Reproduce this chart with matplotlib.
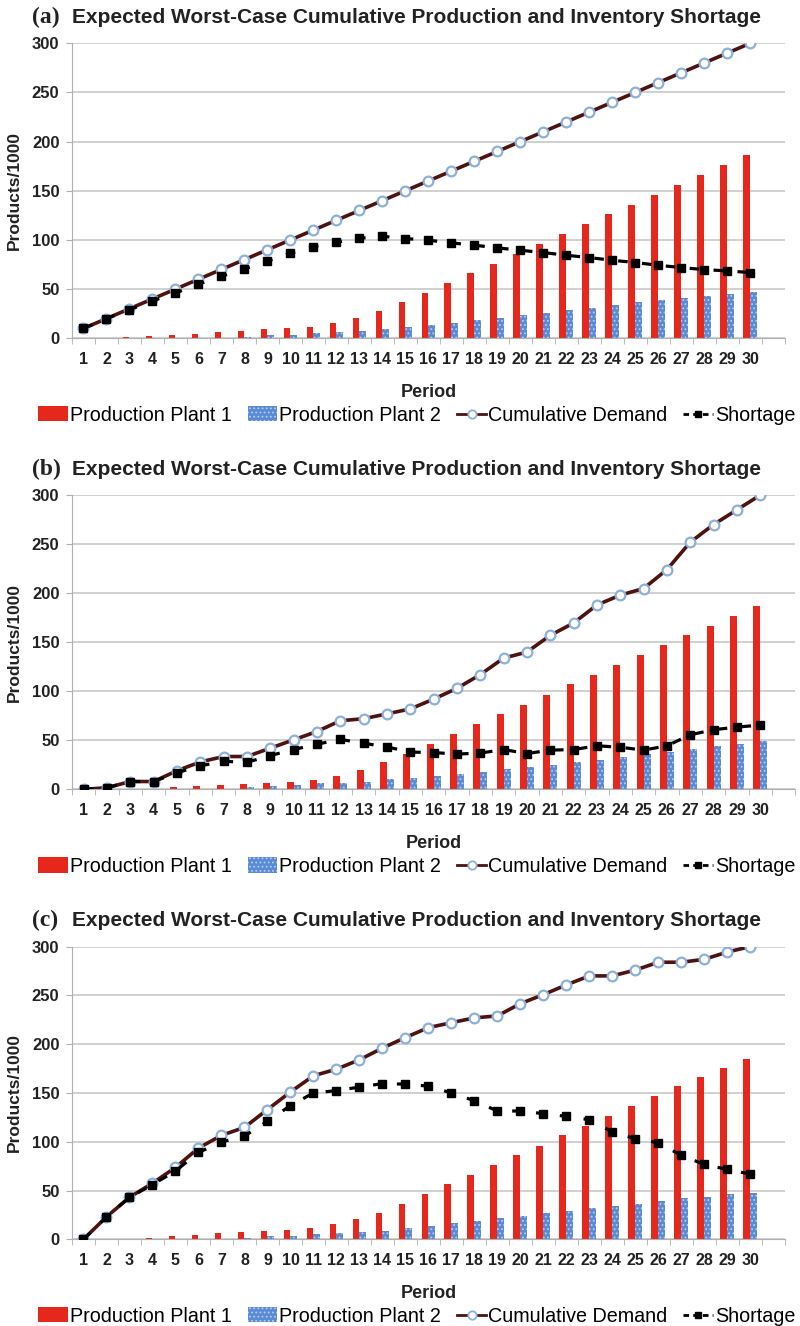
import numpy as np
import matplotlib
matplotlib.use('Agg')
import matplotlib.pyplot as plt
from matplotlib.lines import Line2D
from matplotlib.patches import Patch

periods = list(range(1, 31))
panel_labels = ['(a)', '(b)', '(c)']
title = 'Expected Worst-Case Cumulative Production and Inventory Shortage'
legend_labels = ['Production Plant 1', 'Production Plant 2', 'Cumulative Demand', 'Shortage']
y_ticks = [0, 50, 100, 150, 200, 250, 300]

# production (thousands)
plant1_a = [0, 0, 1, 2, 3.5, 4.5, 6, 7.5, 9, 10, 11.5, 16, 21, 27.5, 36.5, 46, 56, 66, 76, 86,
            96, 106, 116, 126, 136, 146, 156, 166, 176, 186]
plant2_a = [0, 0, 0, 0, 0, 0, 0.5, 1.5, 3, 3.5, 5, 6, 7, 9, 11, 13, 16, 19, 21, 24,
            26, 29, 31, 34, 36.5, 39, 41, 43, 45.5, 47]
plant1_b = [0, 0, 0.5, 0.7, 2.4, 3.7, 4.4, 5, 6, 7.5, 9.5, 14, 20, 27.5, 36, 46, 56.5, 67, 77, 86.5,
            96.5, 107, 117, 127, 137, 147, 157, 167, 177, 187]
plant2_b = [0, 0, 0, 0, 0, 0, 0.7, 2, 3.4, 4.4, 6, 6.8, 8, 10.5, 12, 13.3, 15.4, 17.4, 20.5, 23,
            25, 28, 30, 33, 36, 38, 41.5, 44, 46, 49]
plant1_c = [0, 0, 0.7, 1.7, 3.7, 4.8, 6, 7.2, 8.6, 10, 11.6, 15.8, 21, 27.4, 36.6, 46.6, 56.5, 66.4, 76.4, 86.3,
            96, 106.5, 116.4, 126.7, 136.6, 146.6, 156.8, 166, 176, 185]
plant2_c = [0, 0, 0, 0, 0, 0, 0.5, 1.5, 3, 3.5, 5, 6, 7, 9, 11.6, 13.7, 16.4, 18.8, 22, 24,
            26.7, 28.8, 32, 34, 36.6, 39.7, 42, 43.8, 46, 47.3]

demand_a = [10, 20, 30, 40, 50, 60, 70, 80, 90, 100, 110, 120, 130, 140, 150, 160, 170, 180, 190, 200,
            210, 220, 230, 240, 250, 260, 270, 280, 290, 300]
shortage_a = [10, 20, 29, 38, 46, 55, 63, 70.5, 78.5, 86.5, 93, 97.6, 101.7, 103.7, 101.4, 99.7, 97, 94.6, 91.9, 89.5,
              87.1, 84.4, 82, 79.3, 77, 74.2, 71.9, 69.8, 68.5, 66.8]
demand_b = [0, 1.7, 8, 8, 19, 28, 33.5, 33.5, 42, 50.5, 59, 70, 72, 77, 82, 92, 103, 117, 133.8, 140,
            157, 169.6, 188, 198, 204.8, 224, 252, 270, 285, 300]
shortage_b = [0, 1.7, 8, 8, 17, 24, 28.6, 27.6, 34.5, 40.6, 46, 51, 47, 43.3, 38, 37.5, 36, 37, 40.6, 36.5,
              40, 40.6, 44.4, 43, 40, 44.4, 55.6, 60.8, 63.5, 65.5]
demand_c = [0, 23, 43, 57.5, 73.6, 93.5, 106.5, 114.7, 133, 151, 167.6, 174.4, 184, 196, 206.8, 217, 222, 227, 229, 241.6,
            250.8, 260.8, 270, 270, 276, 284, 284, 287, 294.5, 300]
shortage_c = [0, 23, 43, 56, 70, 89, 99.7, 105.8, 121, 137, 150, 152.4, 156, 159.6, 159, 157, 150, 142, 131.5, 131.5,
              128.8, 126, 122.6, 110, 103, 99, 86, 76.7, 71.6, 66.8]

RED = '#e5281b'
BLUE = '#5a8ad4'
BLUE_HATCH = '#b4cdf0'
DEMAND_LINE = '#4e1210'
DEMAND_EDGE = '#8db0da'
GRID = '#c8c8c8'
TEXT = '#222222'

plt.rcParams['font.family'] = ['Liberation Sans', 'DejaVu Sans']
plt.rcParams['hatch.linewidth'] = 0.8


def draw_panel(fig, ax, label, plant1, plant2, demand, shortage, n_slots=31):
    x = np.array(periods)
    w = 0.3
    ax.bar(x - w / 2, plant1, width=w, color=RED, zorder=2)
    ax.bar(x + w / 2, plant2, width=w, color=BLUE, edgecolor=BLUE_HATCH, linewidth=0,
           hatch='....', zorder=2)
    ax.plot(x, demand, color=DEMAND_LINE, linewidth=2.6, marker='o', markersize=7,
            markerfacecolor='white', markeredgecolor=DEMAND_EDGE, markeredgewidth=1.6, zorder=3)
    ax.plot(x, shortage, color='black', linewidth=2.3, linestyle=(0, (3, 4.5)), marker='s',
            markersize=6.3, zorder=4)

    ax.set_xlim(0.5, n_slots + 0.5)
    ax.set_ylim(0, 300)
    ax.set_yticks(y_ticks)
    ax.set_xticks(x)
    ax.set_xticks(np.arange(0.5, n_slots + 1, 1), minor=True)
    ax.tick_params(axis='x', which='major', length=0, pad=10, labelsize=11.5)
    ax.tick_params(axis='x', which='minor', length=4, color='#b0b0b0', direction='out')
    ax.tick_params(axis='y', length=4, color='#b0b0b0', pad=5, labelsize=12)
    for t in ax.get_xticklabels() + ax.get_yticklabels():
        t.set_fontweight('bold')
        t.set_color(TEXT)

    ax.grid(True, axis='y', color=GRID, linewidth=1.2, zorder=0)
    ax.set_axisbelow(True)
    for s in ['top', 'right']:
        ax.spines[s].set_visible(False)
    ax.spines['left'].set_color('#b0b0b0')
    ax.spines['bottom'].set_color('#b0b0b0')

    ax.set_xlabel('Period', fontsize=13, fontweight='bold', color=TEXT)
    ax.xaxis.set_label_coords(0.5, -0.156)
    ax.set_ylabel('Products/1000', fontsize=12.5, fontweight='bold', color=TEXT)
    ax.yaxis.set_label_coords(-0.07, 0.5)

    ax.text(-0.056, 1.088, label, transform=ax.transAxes, fontsize=17, fontweight='bold',
            family='Liberation Serif', va='center', ha='left', color=TEXT)
    ax.text(0.0, 1.088, title, transform=ax.transAxes, fontsize=15, fontweight='bold',
            va='center', ha='left', color=TEXT)

    handles = [
        Patch(facecolor=RED, edgecolor='none'),
        Patch(facecolor=BLUE, edgecolor=BLUE_HATCH, hatch='....', linewidth=0),
        Line2D([], [], color=DEMAND_LINE, linewidth=2, marker='o', markersize=6,
               markerfacecolor='white', markeredgecolor=DEMAND_EDGE, markeredgewidth=1.3),
        Line2D([], [], color='black', linewidth=2, linestyle=(0, (2, 1.5)), marker='s', markersize=5),
    ]
    bottom = ax.get_position().y0
    ax.legend(handles, legend_labels, loc='center', bbox_to_anchor=(0.521, bottom - 77 / 1326),
              bbox_transform=fig.transFigure, ncol=4,
              frameon=False, fontsize=14.2, handlelength=1.5, handleheight=0.8, handletextpad=0.1,
              columnspacing=0.8, borderaxespad=0)


fig = plt.figure(figsize=(8, 13.26), dpi=100)
ax_a = fig.add_axes([0.09, 0.7449, 0.891, 0.2225])
ax_b = fig.add_axes([0.09, 0.4047, 0.904, 0.2219])
ax_c = fig.add_axes([0.09, 0.0654, 0.891, 0.2207])

draw_panel(fig, ax_a, panel_labels[0], plant1_a, plant2_a, demand_a, shortage_a)
draw_panel(fig, ax_b, panel_labels[1], plant1_b, plant2_b, demand_b, shortage_b)
draw_panel(fig, ax_c, panel_labels[2], plant1_c, plant2_c, demand_c, shortage_c)

fig.savefig('out.png', dpi=100)
plt.close(fig)
